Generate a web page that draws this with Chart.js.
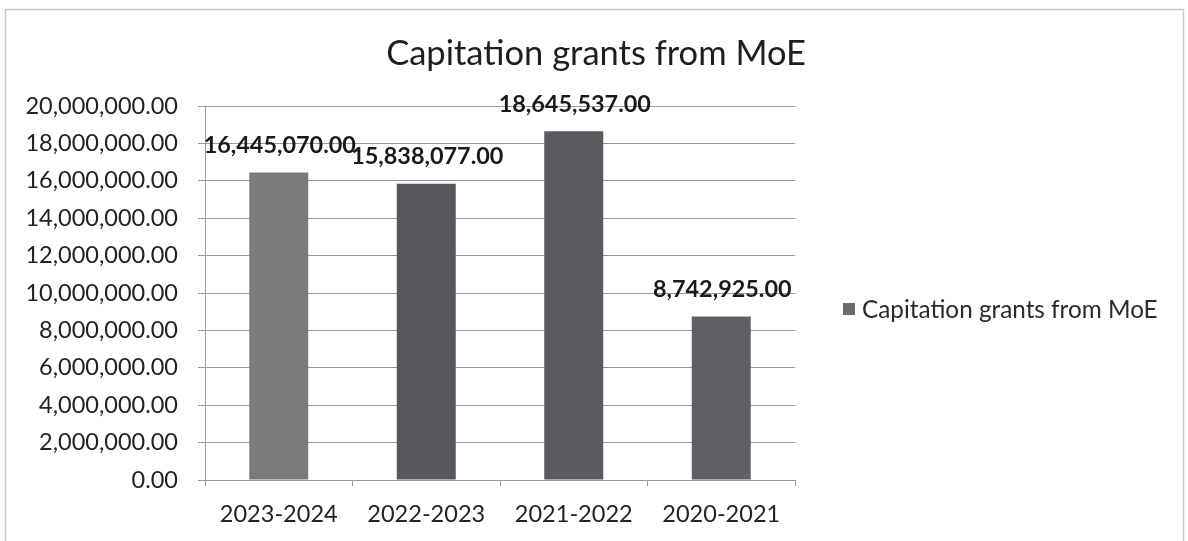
<!DOCTYPE html>
<html>
<head>
<meta charset="utf-8">
<title>Capitation grants from MoE</title>
<script src="https://cdn.jsdelivr.net/npm/chart.js@4/dist/chart.umd.min.js"></script>
<style>
  html, body { margin: 0; padding: 0; background: #fff; }
  #wrap { width: 1188px; height: 541px; }
</style>
</head>
<body>
<div id="wrap"><canvas id="chart" width="1188" height="541"></canvas></div>
<script>
// Data
const years = ["2023-2024", "2022-2023", "2021-2022", "2020-2021"];
const grants = [16445070, 15838077, 18645537, 8742925];
const seriesName = "Capitation grants from MoE";
const yTicks = { min: 0, max: 20000000, step: 2000000 };

const money = v => Number(v).toLocaleString('en-US', { minimumFractionDigits: 2, maximumFractionDigits: 2 });

// outer frame + title, centred on the whole picture like the pasted Excel chart
const framePlugin = {
    id: 'frame',
    beforeDraw(chart) {
        const ctx = chart.ctx;
        ctx.save();
        ctx.fillStyle = '#fff';
        ctx.fillRect(0, 0, chart.width, chart.height);
        ctx.strokeStyle = '#c8c8c8';
        ctx.lineWidth = 1.5;
        ctx.strokeRect(5.5, 9.5, chart.width - 10, chart.height + 10);
        ctx.font = '34.5px Lato';
        ctx.fillStyle = '#1e1e1e';
        ctx.textAlign = 'center';
        ctx.textBaseline = 'alphabetic';
        ctx.fillText(seriesName, 596, 65);
        ctx.restore();
    }
};

// value labels above the bars
const valueLabels = {
    id: 'valueLabels',
    afterDatasetsDraw(chart) {
        const ctx = chart.ctx;
        const meta = chart.getDatasetMeta(0);
        ctx.save();
        ctx.font = 'bold 23.4px Lato';
        ctx.fillStyle = '#1a1a1a';
        ctx.textAlign = 'center';
        ctx.textBaseline = 'middle';
        meta.data.forEach((bar, i) => {
            ctx.fillText(money(grants[i]), bar.x + 1, bar.y - 27);
        });
        ctx.restore();
    }
};

// legend on the right, drawn by hand so the plot keeps its width
const sideLegend = {
    id: 'sideLegend',
    afterDraw(chart) {
        const ctx = chart.ctx;
        const ds = chart.data.datasets[0];
        const area = chart.chartArea;
        const y = (area.top + area.bottom) / 2 + 17;
        ctx.save();
        ctx.fillStyle = '#6a6a6e';
        ctx.fillRect(843, y - 7, 12, 12);
        ctx.font = '24.3px Lato';
        ctx.fillStyle = '#2a2a2a';
        ctx.textBaseline = 'middle';
        ctx.fillText(ds.label, 862, y);
        ctx.restore();
    }
};

new Chart(document.getElementById('chart'), {
    type: 'bar',
    data: {
        labels: years,
        datasets: [{
            label: seriesName,
            data: grants,
            backgroundColor: ['#7b7b7d', '#58585c', '#5a5a5f', '#606064'],
            barPercentage: 0.4,
            categoryPercentage: 1.0
        }]
    },
    options: {
        responsive: false,
        animation: false,
        layout: { padding: { top: 106, right: 393, bottom: 0, left: 0 } },
        plugins: {
            legend: { display: false },
            tooltip: { enabled: false },
            title: { display: false }
        },
        scales: {
            x: {
                grid: { offset: true, drawOnChartArea: false, drawTicks: true, tickLength: 6, color: '#9a9a9a' },
                border: { color: '#9a9a9a' },
                ticks: { color: '#222', padding: 14, font: { family: 'Lato', size: 23.5 } },
                afterFit(axis) { axis.height = 61; }
            },
            y: {
                min: yTicks.min,
                max: yTicks.max,
                ticks: {
                    stepSize: yTicks.step,
                    color: '#222',
                    padding: 20,
                    font: { family: 'Lato', size: 23.5 },
                    callback: v => money(v)
                },
                grid: { color: '#9a9a9a', tickLength: 7 },
                border: { color: '#9a9a9a' },
                afterFit(axis) { axis.width = 205; }
            }
        }
    },
    plugins: [framePlugin, valueLabels, sideLegend]
});
</script>
</body>
</html>
